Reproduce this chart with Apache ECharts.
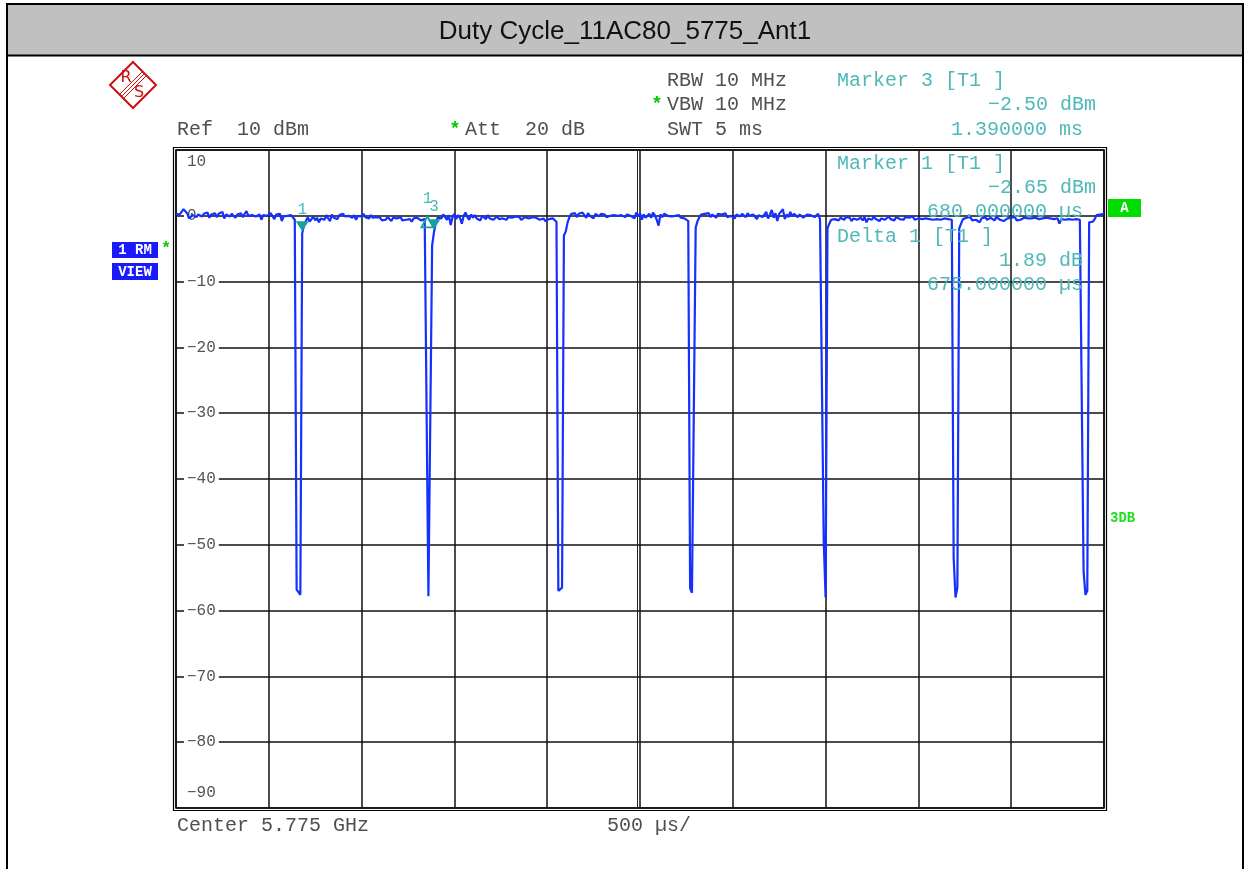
<!DOCTYPE html>
<html>
<head>
<meta charset="utf-8">
<title>Duty Cycle_11AC80_5775_Ant1</title>
<script src="https://cdn.jsdelivr.net/npm/echarts@6/dist/echarts.min.js"></script>
<style>
  html, body { margin: 0; padding: 0; background: #fff; }
  #chart { width: 1245px; height: 869px; }
</style>
</head>
<body>
<div id="chart"></div>
<script>
  // sweep 5 ms, 10 us per point (501 points), levels in dBm
  const sweepTime = 5;
  const sweepStep = 0.01;
  const traceLevels = [
    0.3, 0.5, 0.2, 0.6, 1.0, 1.3, 0.4, -0.4, -0.6, 0.1, 0.3, -0.2, 0.2, 0.4, -0.1, 0.3, 0.0, 0.5, -0.3, 0.2,
    0.1, 0.4, -0.2, 0.3, 0.0, 0.6, -0.4, 0.2, 0.1, -0.1, 0.3, 0.0, -0.3, 0.2, 0.1, 0.4, -0.2, 0.3, 0.7, 0.0,
    -0.2, 0.1, 0.3, -0.1, 0.0, 0.2, -0.6, 0.1, 0.3, 0.0, -0.2, 0.4, 0.1, -0.5, 0.2, 0.0, 0.3, -0.8, -0.1, 0.2,
    0.0, -0.3, 0.1, -0.2, -0.6, -56.8, -57.2, -57.6, -2.65, -1.4, -0.8, -0.2, -0.9, -0.5, -0.1, -0.7, -0.3, -1.0, -0.4, -0.2,
    -0.6, 0.1, -0.4, -0.8, 0.2, -0.3, 0.0, -0.5, 0.1, -0.2, 0.3, -0.1, -0.4, 0.0, 0.2, -0.3, 0.1, -0.6, 0.0, 0.2,
    -0.1, 0.3, -0.2, 0.0, -0.4, 0.1, -0.3, -0.6, -0.2, -0.5, -0.3, -0.7, -0.4, -0.6, -0.2, -0.5, -0.8, -0.3, -0.6, -0.4,
    -0.5, -0.2, -0.7, -0.4, -0.6, -0.3, -0.5, -0.9, -0.4, -0.6, -0.3, -0.5, -0.7, -0.4, -0.5, -0.6, -57.8, -58.0, -4.5, -2.5,
    -1.0, -0.3, 0.0, -0.4, 0.2, -0.1, -0.6, 0.1, -1.4, -0.2, 0.3, -0.5, 0.1, -0.3, -1.2, 0.0, 0.5, -0.2, -0.6, 0.2,
    -0.3, 0.1, -0.4, -0.2, -0.7, 0.0, -0.3, -0.5, 0.1, -0.4, -0.2, -0.6, -0.3, -0.1, -0.5, -0.2, -0.4, -0.3, -0.6, -0.2,
    -0.4, -0.3, -0.5, -0.1, -0.4, -0.2, -0.6, -0.3, -0.2, -0.5, -0.4, -0.3, -0.2, -0.5, -0.3, -0.4, -0.6, -0.5, -0.4, -0.8,
    -0.6, -0.5, -0.7, -0.4, -0.6, -0.9, -57.0, -57.3, -56.5, -3.0, -2.4, -1.0, -0.2, 0.3, 0.1, 0.4, -0.2, 0.3, 0.0, 0.5,
    0.1, -0.3, 0.4, 0.0, 0.2, -0.4, 0.3, 0.1, -0.1, 0.3, 0.0, 0.2, -0.2, 0.1, 0.0, 0.2, 0.1, -0.1, 0.0, -0.2,
    0.1, 0.0, -0.2, 0.2, -0.1, 0.0, 0.3, -0.4, 0.5, -0.1, 0.4, -0.6, 0.2, -0.3, 0.0, 0.3, -0.3, 0.5, 0.1, -0.6,
    -1.5, 0.2, -0.2, 0.3, 0.1, 0.0, 0.3, -0.1, 0.2, 0.0, -0.1, 0.1, -0.3, -0.2, -0.4, -0.5, -0.8, -56.6, -57.3, -57.0,
    -1.8, -0.8, -0.2, 0.2, -0.1, 0.3, 0.0, 0.4, -0.2, 0.2, 0.1, -0.3, 0.3, 0.0, 0.2, -0.1, 0.4, -0.2, 0.1, 0.0,
    0.3, -0.4, 0.2, 0.0, -0.1, 0.3, 0.1, -0.2, 0.4, 0.0, -0.3, 0.2, 0.5, -0.5, 0.1, 0.3, -0.2, 0.0, 0.6, -0.4,
    0.2, 0.9, -0.3, 0.4, -0.8, 0.3, 0.0, 1.0, -0.5, 0.2, -0.2, 0.6, -0.1, 0.3, 0.0, -0.2, 0.2, 0.1, -0.3, 0.0,
    0.2, -0.1, 0.1, 0.0, -0.2, 0.1, 0.3, -0.5, -0.8, -49.5, -58.0, -1.9, -1.2, -0.6, -0.3, -0.5, -0.2, -0.7, -0.3, -0.4,
    -0.6, -0.2, -0.5, -0.3, -0.8, -0.4, -0.2, -0.6, -0.5, -0.3, -0.7, -0.2, -1.0, -0.4, -0.3, -0.6, -0.1, -0.5, -0.3, -0.8,
    -0.4, -0.2, -0.6, -0.3, -0.1, -0.5, -0.4, -0.7, -0.2, -0.3, -0.5, -0.4, -0.6, -0.2, -0.4, -0.3, -0.5, -0.1, -0.6, -0.3,
    -0.4, -0.7, -0.5, -0.6, -0.4, -0.3, -0.5, -0.8, -0.6, -0.4, -0.5, -0.3, -0.6, -0.7, -0.4, -0.6, -0.5, -0.8, -0.6, -52.0,
    -58.0, -56.5, -1.9, -1.2, -0.5, -0.6, -0.3, -0.5, -0.2, -0.7, -0.4, -0.6, -0.3, -1.0, -0.4, -0.5, -0.2, -0.6, -0.4, -0.3,
    -0.5, -0.7, -0.2, -0.4, -0.6, -0.3, -0.8, -0.5, -0.4, -0.6, -0.3, -0.5, -0.2, -0.7, -0.4, -0.6, -0.5, -0.3, -0.6, -0.4,
    -0.7, -0.4, -0.5, -0.3, -0.6, -0.5, -0.2, -0.4, -0.6, -0.3, -0.5, -0.4, -0.7, -0.5, -0.6, -0.4, -1.2, -0.5, -0.3, -0.6,
    -0.4, -0.5, -0.7, -0.6, -0.4, -0.5, -0.8, -0.6, -0.7, -54.0, -57.6, -57.0, -1.0, -1.3, -0.9, -0.5, 0.1, 0.4, 0.2, 0.0,
    0.3
  ];

  // markers (ms, dBm)
  const markerNames = ['1', '3'];
  const markerTimes = [0.68, 1.39];
  const markerLevels = [-2.65, -2.50];
  // delta 1 relative to marker 1
  const deltaTime = 0.675;
  const deltaLevel = 1.89;

  const yMin = -90;
  const yMax = 10;
  const yStep = 10;
  const xStep = 0.5;

  const mono = "'Liberation Mono', 'DejaVu Sans Mono', monospace";
  const grey = '#505050';
  const teal = '#4fb8b8';
  const tealDark = '#16a0a0';

  let traceData = traceLevels.map(function (v, i) { return [i * sweepStep, v]; });

  function txt(x, y, s, color, align, size, weight) {
    return {
      type: 'text',
      z: 10,
      style: {
        text: s, x: x, y: y,
        fill: color || grey,
        font: (weight || 'normal') + ' ' + (size || 20) + 'px ' + mono,
        align: align || 'left', verticalAlign: 'middle',
        textAlign: align || 'left', textVerticalAlign: 'middle'
      }
    };
  }

  let graphics = [
    // outer frame + title bar
    { type: 'rect', z: 1, shape: { x: 8, y: 5, width: 1234, height: 50 }, style: { fill: '#c0c0c0' } },
    { type: 'rect', z: 2, shape: { x: 7, y: 4, width: 1236, height: 900 }, style: { fill: 'none', stroke: '#000', lineWidth: 2 } },
    { type: 'line', z: 2, shape: { x1: 7, y1: 55.5, x2: 1243, y2: 55.5 }, style: { stroke: '#000', lineWidth: 2 } },
    {
      type: 'text', z: 10,
      style: {
        text: 'Duty Cycle_11AC80_5775_Ant1', x: 625, y: 32,
        fill: '#111', font: "26px 'Liberation Sans', Arial, sans-serif",
        align: 'center', verticalAlign: 'middle', textAlign: 'center', textVerticalAlign: 'middle'
      }
    },
    // R&S logo
    { type: 'polygon', z: 5, shape: { points: [[133, 62], [156, 85], [133, 108], [110, 85]] }, style: { fill: '#fff', stroke: '#cc1111', lineWidth: 2 } },
    { type: 'line', z: 5, shape: { x1: 142.5, y1: 71.5, x2: 119.5, y2: 94.5 }, style: { stroke: '#cc1111', lineWidth: 1 } },
    { type: 'line', z: 5, shape: { x1: 144.5, y1: 73.5, x2: 121.5, y2: 96.5 }, style: { stroke: '#cc1111', lineWidth: 1 } },
    { type: 'line', z: 5, shape: { x1: 146.5, y1: 75.5, x2: 123.5, y2: 98.5 }, style: { stroke: '#cc1111', lineWidth: 1 } },
    {
      type: 'text', z: 6,
      style: { text: 'R', x: 126, y: 78, fill: '#cc1111', font: "16px 'DejaVu Sans', sans-serif", align: 'center', verticalAlign: 'middle', textAlign: 'center', textVerticalAlign: 'middle' }
    },
    {
      type: 'text', z: 6,
      style: { text: 'S', x: 139, y: 93, fill: '#cc1111', font: "16px 'DejaVu Sans', sans-serif", align: 'center', verticalAlign: 'middle', textAlign: 'center', textVerticalAlign: 'middle' }
    },
    // settings header
    txt(177, 130, 'Ref  10 dBm'),
    txt(455, 129, '*', '#00cc00', 'center', 19, 'bold'),
    txt(465, 130, 'Att  20 dB'),
    txt(667, 81, 'RBW 10 MHz'),
    txt(657, 104, '*', '#00cc00', 'center', 19, 'bold'),
    txt(667, 105, 'VBW 10 MHz'),
    txt(667, 130, 'SWT 5 ms'),
    txt(837, 81, 'Marker ' + markerNames[1] + ' [T1 ]', teal),
    txt(1096, 105, '\u2212' + Math.abs(markerLevels[1]).toFixed(2) + ' dBm', teal, 'right'),
    txt(1083, 130, markerTimes[1].toFixed(6) + ' ms', teal, 'right'),
    // marker block inside diagram
    txt(837, 164, 'Marker ' + markerNames[0] + ' [T1 ]', teal),
    txt(1096, 188, '\u2212' + Math.abs(markerLevels[0]).toFixed(2) + ' dBm', teal, 'right'),
    txt(1083, 212, (markerTimes[0] * 1000).toFixed(6) + ' \u00b5s', teal, 'right'),
    txt(837, 237, 'Delta 1 [T1 ]', teal),
    txt(1083, 261, deltaLevel.toFixed(2) + ' dB', teal, 'right'),
    txt(1083, 285, (deltaTime * 1000).toFixed(6) + ' \u00b5s', teal, 'right'),
    // bottom line
    txt(177, 826, 'Center 5.775 GHz'),
    txt(607, 826, '500 \u00b5s/'),
    // side badges
    { type: 'rect', z: 8, shape: { x: 1108, y: 199, width: 33, height: 18 }, style: { fill: '#00dd00' } },
    txt(1124.5, 208, 'A', '#fff', 'center', 14, 'bold'),
    txt(1110, 518, '3DB', '#22dd22', 'left', 14, 'bold'),
    { type: 'rect', z: 8, shape: { x: 112, y: 242, width: 46, height: 16 }, style: { fill: '#1a1aff' } },
    txt(135, 250.5, '1 RM', '#fff', 'center', 14, 'bold'),
    { type: 'rect', z: 8, shape: { x: 112, y: 263, width: 46, height: 17 }, style: { fill: '#1a1aff' } },
    txt(135, 272, 'VIEW', '#fff', 'center', 14, 'bold'),
    txt(166, 249, '*', '#00cc00', 'center', 17, 'bold'),
    // double frame of the diagram + double centre line
    { type: 'rect', z: 3, shape: { x: 173.5, y: 147.5, width: 933, height: 663 }, style: { fill: 'none', stroke: '#000', lineWidth: 1.2 } },
    { type: 'line', z: 3, shape: { x1: 637.5, y1: 150, x2: 637.5, y2: 808 }, style: { stroke: '#222', lineWidth: 1 } }
  ];

  let myChart = echarts.init(document.getElementById('chart'));
  let option = {
    animation: false,
    backgroundColor: '#fff',
    grid: {
      left: 176, top: 150, width: 928, height: 658,
      show: true, borderColor: '#000', borderWidth: 1.5
    },
    xAxis: {
      type: 'value',
      min: 0, max: sweepTime, interval: xStep,
      axisLine: { show: false },
      axisTick: { show: false },
      axisLabel: { show: false },
      splitLine: { show: true, lineStyle: { color: '#111', width: 1.5 } }
    },
    yAxis: {
      type: 'value',
      min: yMin, max: yMax, interval: yStep,
      axisLine: { show: false },
      axisTick: { show: false },
      splitLine: { show: true, lineStyle: { color: '#111', width: 1.5 } },
      axisLabel: {
        inside: true,
        margin: 8,
        formatter: function (v) {
          let s = v < 0 ? '\u2212' + Math.abs(v) : String(v);
          if (v === yMax) return '{top|' + s + '}';
          if (v === yMin) return '{bot|' + s + '}';
          return '{mid|' + s + '}';
        },
        rich: {
          top: { fontFamily: mono, fontSize: 16, color: '#555', padding: [24, 3, 0, 3] },
          bot: { fontFamily: mono, fontSize: 16, color: '#555', padding: [0, 3, 30, 3] },
          mid: { fontFamily: mono, fontSize: 16, color: '#555', backgroundColor: '#fff', padding: [2, 3, 2, 3] }
        }
      }
    },
    graphic: graphics,
    series: [
      {
        type: 'line',
        data: traceData,
        showSymbol: false,
        silent: true,
        lineStyle: { color: '#1530ff', width: 2.2 },
        markPoint: {
          silent: true,
          animation: false,
          data: [
            {
              coord: [markerTimes[0], markerLevels[0]],
              symbol: 'triangle', symbolRotate: 180, symbolSize: [13, 10], symbolOffset: [0, -7],
              itemStyle: { color: tealDark },
              label: { show: true, formatter: markerNames[0], position: 'top', distance: 3, color: teal, fontSize: 16, fontFamily: mono }
            },
            {
              coord: [markerTimes[1], markerLevels[1]],
              symbol: 'triangle', symbolRotate: 180, symbolSize: [13, 10], symbolOffset: [0, -8],
              itemStyle: { color: tealDark },
              label: { show: true, formatter: markerNames[1], position: 'top', distance: 4, color: teal, fontSize: 16, fontFamily: mono }
            },
            {
              coord: [markerTimes[0] + deltaTime, markerLevels[0] + deltaLevel],
              symbol: 'triangle', symbolSize: [12, 11], symbolOffset: [0, 1],
              itemStyle: { color: 'rgba(0,0,0,0)', borderColor: tealDark, borderWidth: 1.8 },
              label: { show: true, formatter: '1', position: 'top', distance: 9, color: teal, fontSize: 16, fontFamily: mono }
            }
          ]
        }
      }
    ]
  };
  myChart.setOption(option);
</script>
</body>
</html>
